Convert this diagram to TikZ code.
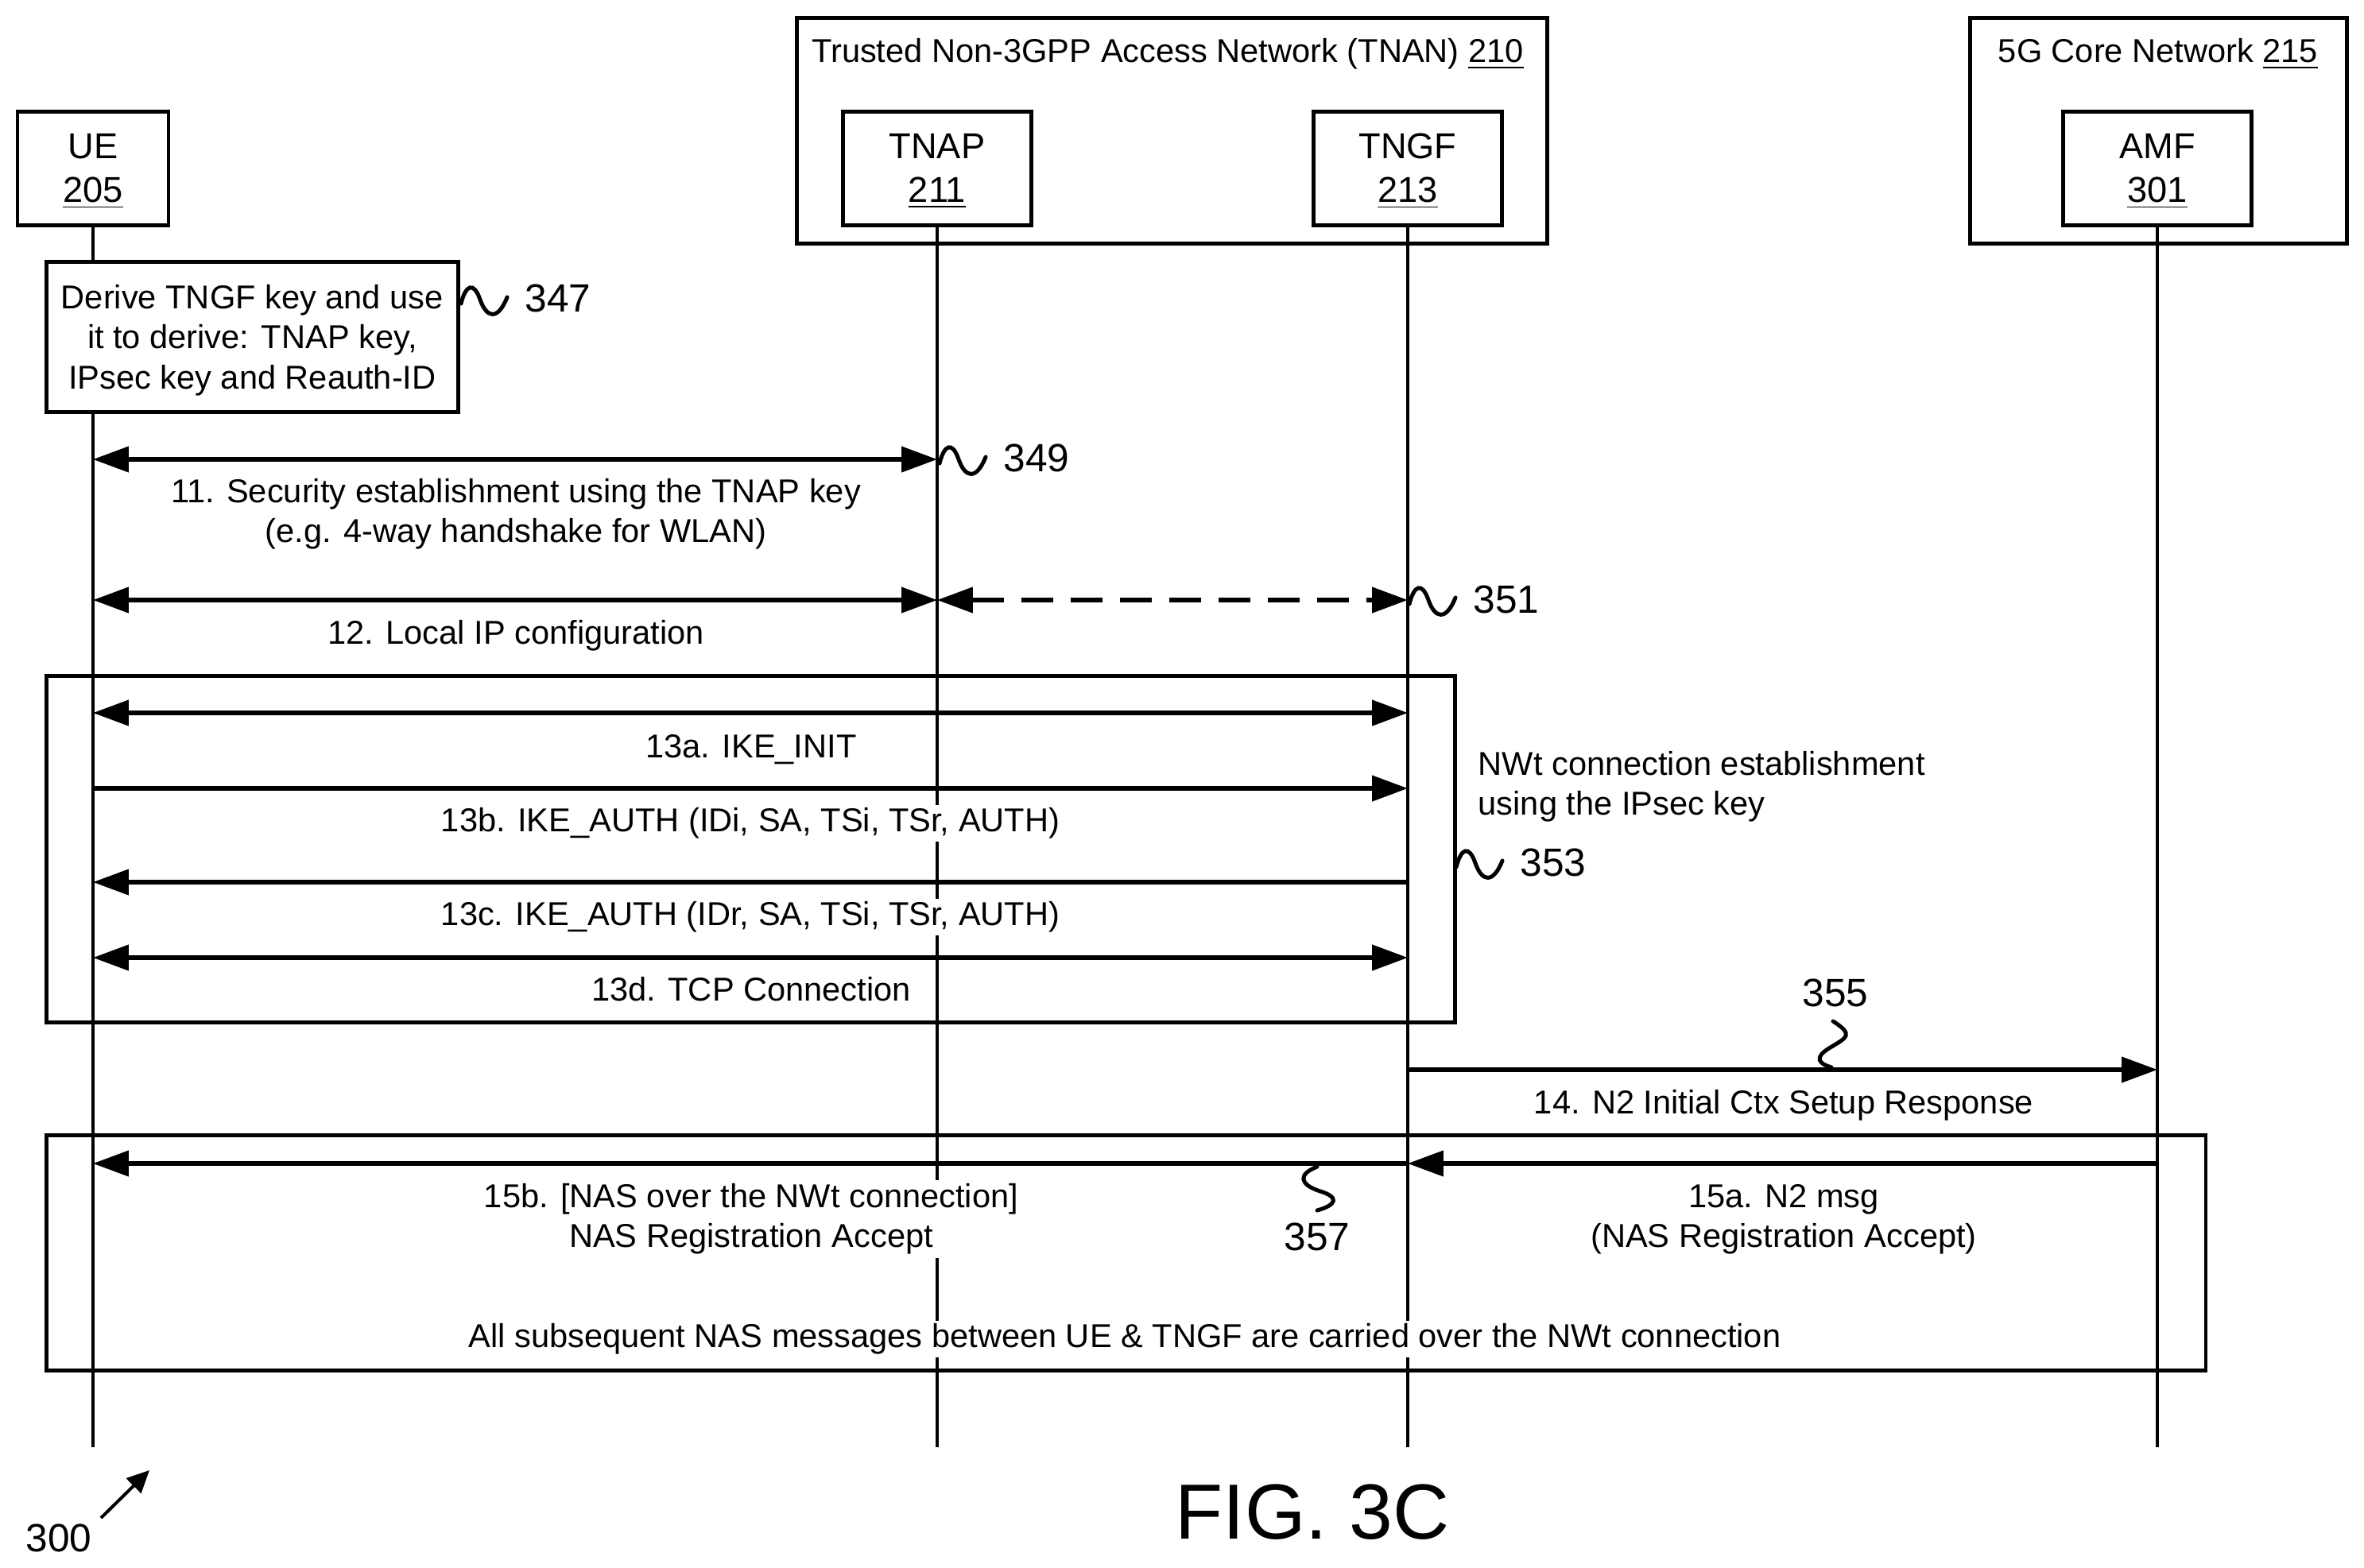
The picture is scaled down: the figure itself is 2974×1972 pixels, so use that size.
\documentclass[tikz,border=0pt]{standalone}
\usepackage{fontspec}
\setmainfont{Liberation Sans}
\usetikzlibrary{arrows.meta}
\newcommand{\upstrut}{\rule{0pt}{9.5pt}}
\tikzset{
  ln/.style={line width=1pt,black},
  boxn/.style={draw,line width=1.15pt,inner sep=0pt,align=center,font=\fontsize{11.3pt}{13.75pt}\selectfont},
  boxs/.style={boxn,font=\fontsize{10.4pt}{12.6pt}\selectfont},
  lbl/.style={fill=white,inner sep=1pt,align=center,font=\fontsize{10.4pt}{12.6pt}\selectfont},
  free/.style={inner sep=0pt,align=left,font=\fontsize{10.4pt}{12.4pt}\selectfont},
  refn/.style={inner sep=0pt,font=\fontsize{12.4pt}{14pt}\selectfont},
  msg/.style={line width=1.3pt,black,{Triangle[length=11.2pt,width=7.9pt]}-{Triangle[length=11.2pt,width=7.9pt]}},
  msgr/.style={line width=1.3pt,black,-{Triangle[length=11.2pt,width=7.9pt]}},
  squig/.style={line width=1.25pt,black,line cap=round},
}
\newcommand{\sqg}[2]{\draw[squig,shift={(#1,#2)}] (0,5) .. controls (6,-19) and (16,-23) .. (24,0) .. controls (32,23) and (46,27) .. (58,-3);}
\begin{document}
\begin{tikzpicture}[x=0.25pt,y=-0.25pt]
\useasboundingbox (0,0) rectangle (2974,1972);
% containers
\node[boxn,minimum width=236pt,minimum height=71pt,anchor=north west] (tnan) at (1000,20) {};
\node[boxn,minimum width=118.5pt,minimum height=71pt,anchor=north west] (core) at (2476,20) {};
\node[free] (tnant) at (1469,68) {Trusted Non-3GPP Access Network (TNAN) \underline{210}};
\node[free] (coret) at (2715,68) {5G Core Network \underline{215}};
% actors
\node[boxn,minimum width=47.5pt,minimum height=35.7pt] (ue) at (117,212) {\upstrut UE\\\underline{205}};
\node[boxn,minimum width=59.2pt,minimum height=35.7pt] (tnap) at (1179,212) {\upstrut TNAP\\\underline{211}};
\node[boxn,minimum width=59.2pt,minimum height=35.7pt] (tngf) at (1771,212) {\upstrut TNGF\\\underline{213}};
\node[boxn,minimum width=59.2pt,minimum height=35.7pt] (amf) at (2714,212) {\upstrut AMF\\\underline{301}};
% lifeline ends
\coordinate (bue) at (117,1821);
\coordinate (btnap) at (1179,1821);
\coordinate (btngf) at (1771,1821);
\coordinate (bamf) at (2714,1821);
% lifelines
\draw[ln] (ue.south) -- (bue);
\draw[ln] (tnap.south) -- (btnap);
\draw[ln] (tngf.south) -- (btngf);
\draw[ln] (amf.south) -- (bamf);
% step boxes
\node[boxs,fill=white,minimum width=129.5pt,minimum height=47.3pt,anchor=north west] (derive) at (56,327) {\rule{0pt}{9.6pt}Derive TNGF key and use\\it to derive: TNAP key,\\IPsec key and Reauth-ID};
\node[boxn,minimum width=443pt,minimum height=109pt,anchor=north west] (grpa) at (56,848) {};
\node[boxn,minimum width=679.2pt,minimum height=74pt,anchor=north west] (grpb) at (56,1426) {};
% messages
\coordinate (m11a) at (117,578); \coordinate (m11b) at (1179,578);
\coordinate (m12a) at (117,755); \coordinate (m12b) at (1179,755); \coordinate (m12c) at (1771,755);
\coordinate (m13aa) at (117,897); \coordinate (m13ab) at (1771,897);
\coordinate (m13ba) at (117,992); \coordinate (m13bb) at (1771,992);
\coordinate (m13ca) at (117,1110); \coordinate (m13cb) at (1771,1110);
\coordinate (m13da) at (117,1205); \coordinate (m13db) at (1771,1205);
\coordinate (m14a) at (1771,1346); \coordinate (m14b) at (2714,1346);
\coordinate (m15a) at (2714,1464); \coordinate (m15b) at (1771,1464); \coordinate (m15c) at (117,1464);
\draw[msg] (m11a) -- (m11b);
\draw[msg] (m12a) -- (m12b);
\draw[msg,dash pattern=on 10pt off 5.5pt] (m12b) -- (m12c);
\draw[msg] (m13aa) -- (m13ab);
\draw[msgr] (m13ba) -- (m13bb);
\draw[msgr] (m13cb) -- (m13ca);
\draw[msg] (m13da) -- (m13db);
\draw[msgr] (m14a) -- (m14b);
\draw[msgr] (m15a) -- (m15b);
\draw[msgr] (m15b) -- (m15c);
% labels
\node[lbl] (l11) at (649,647) {11. Security establishment using the TNAP key\\(e.g. 4-way handshake for WLAN)};
\node[lbl] (l12) at (649,800) {12. Local IP configuration};
\node[lbl] (l13a) at (945,943) {13a. IKE\_INIT};
\node[lbl] (l13b) at (944,1036) {13b. IKE\_AUTH (IDi, SA, TSi, TSr, AUTH)};
\node[lbl] (l13c) at (944,1154) {13c. IKE\_AUTH (IDr, SA, TSi, TSr, AUTH)};
\node[lbl] (l13d) at (945,1245) {13d. TCP Connection};
\node[lbl] (l14) at (2244,1391) {14. N2 Initial Ctx Setup Response};
\node[lbl] (l15a) at (2244,1534) {15a. N2 msg\\(NAS Registration Accept)};
\node[lbl] (l15b) at (945,1534) {15b. [NAS over the NWt connection]\\NAS Registration Accept};
\node[lbl] (lall) at (1415,1685) {All subsequent NAS messages between UE \& TNGF are carried over the NWt connection};
\node[free,anchor=west] (nwt) at (1859,990) {NWt connection establishment\\using the IPsec key};
% reference numerals
\node[refn,anchor=west] (r347) at (660,375) {347};
\node[refn,anchor=west] (r349) at (1262,576) {349};
\node[refn,anchor=west] (r351) at (1853,754) {351};
\node[refn,anchor=west] (r353) at (1912,1085) {353};
\node[refn] (r355) at (2309,1249) {355};
\node[refn] (r357) at (1657,1556) {357};
\node[refn] (r300) at (74,1935) {300};
\node[inner sep=0pt,font=\fontsize{24.6pt}{28pt}\selectfont] (fig) at (1651,1903) {FIG. 3C};
% squiggles
\sqg{580}{377}
\sqg{1182}{578}
\sqg{1773}{755}
\sqg{1832}{1086}
\draw[squig] (2306,1285) .. controls (2333,1302) and (2322,1306) .. (2306,1316) .. controls (2288,1326) and (2280,1336) .. (2304,1343);
\draw[squig] (1657,1468) .. controls (1632,1478) and (1636,1490) .. (1658,1498) .. controls (1686,1506) and (1682,1516) .. (1657,1523);
% figure arrow
\coordinate (a300a) at (127,1910); \coordinate (a300b) at (188,1850);
\draw[line width=1pt,-{Triangle[length=7pt,width=6.5pt]}] (a300a) -- (a300b);
\end{tikzpicture}
\end{document}
